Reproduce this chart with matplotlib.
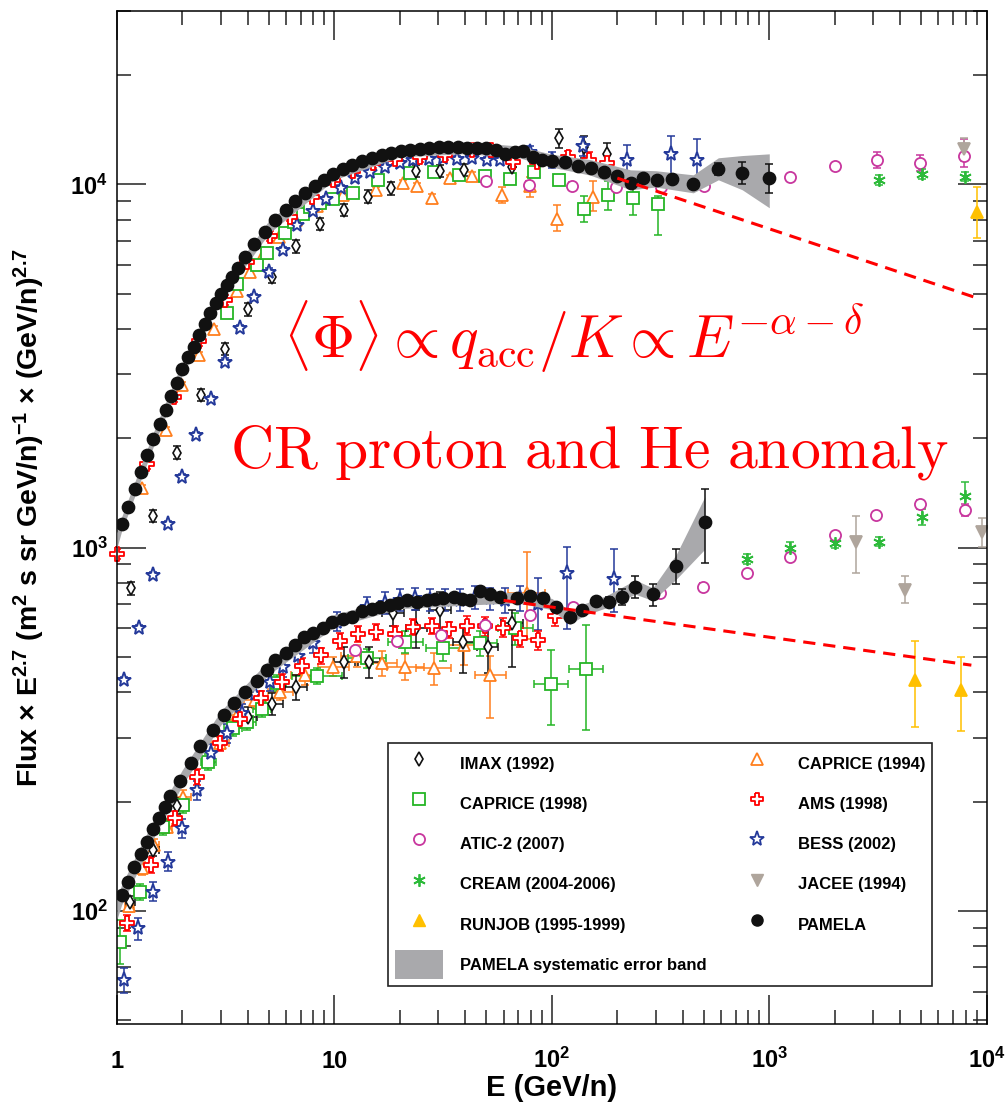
import numpy as np
import matplotlib
matplotlib.use("Agg")
import matplotlib.pyplot as plt
from matplotlib.lines import Line2D
from matplotlib.patches import Patch
from matplotlib.ticker import FixedLocator, FixedFormatter, LogLocator, NullFormatter

plt.rcParams.update({
    "font.family": ["Liberation Sans", "DejaVu Sans"],
    "font.weight": "bold",
    "mathtext.fontset": "custom",
    "mathtext.rm": "Liberation Sans:bold",
    "mathtext.bf": "Liberation Sans:bold",
    "mathtext.it": "Liberation Sans:bold:italic",
    "mathtext.sf": "Liberation Sans:bold",
    "axes.linewidth": 1.1,
})

# ---------------- data : protons (upper group) ----------------
pam_p_E = [1.05, 1.12, 1.21, 1.29, 1.37, 1.47, 1.58, 1.68, 1.77, 1.88,
           1.99, 2.12, 2.26, 2.39, 2.54, 2.68, 2.86, 3.01, 3.21, 3.38,
           3.61, 3.88, 4.27, 4.80, 5.33, 5.99, 6.59, 7.33, 8.15, 8.97,
           9.86, 10.9, 12.1, 13.4, 14.9, 16.6, 18.2, 20.3, 22.3, 24.8,
           27.3, 30.3, 33.4, 37.1, 40.8, 45.4, 49.9, 55.5, 61.0, 67.9,
           73.9, 82.1, 90.3, 100, 115, 132, 152, 174, 200, 232,
           263, 306, 358, 447, 583, 751, 1001]
pam_p_F = [1163, 1295, 1452, 1617, 1800, 1993, 2193, 2394, 2617, 2836,
           3105, 3351, 3571, 3852, 4130, 4430, 4720, 4995, 5288, 5565,
           5890, 6318, 6856, 7398, 7985, 8507, 9008, 9476, 9905, 10290,
           10690, 11030, 11320, 11610, 11830, 12050, 12210, 12370, 12450, 12530,
           12600, 12680, 12680, 12680, 12600, 12600, 12600, 12450, 12130, 12290,
           12370, 11900, 11680, 11610, 11530, 11240, 11100, 10820, 10550, 10100,
           10420, 10290, 10350, 10030, 11030, 10760, 10420]
pam_p_err = [0.0] * 64 + [0.04, 0.07, 0.09]

p_band_E = [1.0, 1.05, 1.5, 2.0, 3.0, 5.0, 10, 20, 40, 70, 100, 150, 230, 300, 447, 583, 751, 1000]
p_band_lo = [1000, 1110, 1960, 2990, 4790, 7330, 10300, 11900, 12150, 11850, 11150, 10600, 9660, 9830, 9475, 10290, 9660, 8620]
p_band_hi = [1100, 1215, 2140, 3250, 5190, 7950, 11100, 12800, 13100, 12750, 12100, 11700, 10960, 10900, 10620, 11830, 12000, 12130]

imax_p_E = [1.16, 1.47, 1.89, 2.43, 3.13, 4.02, 5.19, 6.66, 8.60, 11.1, 14.3, 18.3, 23.7, 30.6, 39.5, 65.5, 108, 140, 180]
imax_p_F = [774, 1223, 1827, 2634, 3526, 4535, 5574, 6744, 7786, 8507, 9256, 9761, 10890, 10890, 10960, 11190, 13430, 12680, 12130]
imax_p_err = [0.04, 0.04, 0.04, 0.04, 0.04, 0.04, 0.04, 0.04, 0.04, 0.04, 0.04, 0.04, 0.04, 0.04, 0.04, 0.05, 0.06, 0.07, 0.07]

cap94_p_E = [1.30, 1.68, 2.00, 2.39, 2.80, 3.58, 4.08, 4.75, 5.57, 6.65, 8.33, 11.0, 15.6, 20.7, 23.9, 28.1, 34.1, 43.1, 59.0, 79.5, 106, 155]
cap94_p_F = [1458, 2110, 2806, 3395, 4007, 5092, 5735, 6478, 7154, 7960, 8689, 9374, 9658, 10080, 9868, 9192, 10400, 10530, 9357, 9905, 8027, 9256]
cap94_p_lo = [0.02] * 17 + [0.03, 0.05, 0.07, 0.075, 0.09]
cap94_p_hi = [0.02] * 17 + [0.03, 0.05, 0.06, 0.09, 0.10]

cap98_p_E = [3.22, 3.57, 4.40, 4.89, 5.90, 6.49, 7.18, 7.73, 8.60, 9.89, 12.2, 15.9, 22.2, 28.8, 37.6, 49.2, 63.9, 82.7, 108, 140, 181, 235, 307]
cap98_p_F = [4422, 5304, 5991, 6465, 7340, 7900, 8295, 8673, 8911, 9107, 9493, 10290, 10760, 10790, 10590, 10530, 10350, 10820, 10250, 8579, 9357, 9163, 8838]
cap98_p_lo = [0.03] * 19 + [0.08, 0.09, 0.10, 0.18]
cap98_p_hi = [0.03] * 19 + [0.08, 0.09, 0.10, 0.05]

ams_p_E = [1.0, 1.38, 1.82, 2.39, 3.14, 3.95, 5.06, 6.25, 7.87, 9.86, 12.2, 15.1, 19.0, 24.8, 32.3, 42.9, 52.5, 66.2, 85.4, 119, 148, 180]
ams_p_F = [962, 1700, 2600, 3700, 4800, 6100, 7200, 8150, 9250, 10250, 10900, 11450, 11750, 11900, 12050, 12450, 12400, 11500, 11530, 11900, 11680, 11460]
ams_p_err = [0.03] * 19 + [0.04, 0.05, 0.05]

bess_p_E = [1.08, 1.26, 1.47, 1.71, 1.99, 2.32, 2.70, 3.14, 3.68, 4.28, 5.02, 5.83, 6.76, 8.01, 9.11, 10.7, 12.5,
            14.6, 17.1, 20.1, 23.1, 27.1, 31.6, 36.6, 42.9, 50.3, 57.9, 79.5, 100, 139, 222, 353, 465]
bess_p_F = [433, 600, 842, 1161, 1563, 2045, 2568, 3253, 4020, 4901, 5754, 6601, 7737, 8471, 9107, 9761, 10400,
            10840, 11190, 11440, 11680, 11730, 11810, 11760, 11810, 11680, 11680, 12290, 11680, 12710, 11680, 12130, 11680]
bess_p_err = [0.02] * 27 + [0.04, 0.05, 0.06, 0.10, 0.12, 0.14]

atic_p_E = [49.7, 78.9, 124, 198, 319, 499, 1241, 2000, 3134, 4960, 7848]
atic_p_F = [10220, 9987, 9924, 9824, 9824, 9905, 10470, 11240, 11680, 11440, 11980]
atic_p_lo = [0.02, 0.02, 0.02, 0.02, 0.02, 0.02, 0.02, 0.02, 0.05, 0.05, 0.07]
atic_p_hi = [0.02, 0.02, 0.02, 0.02, 0.02, 0.02, 0.02, 0.02, 0.05, 0.05, 0.11]

cream_p_E = [3188, 5049, 7987]
cream_p_F = [10290, 10690, 10500]
cream_p_err = [0.03, 0.03, 0.03]

jacee_p_E = [7848]
jacee_p_F = [12500]
jacee_p_err = [0.07]

runjob_p_E = [9044]
runjob_p_F = [8416]
runjob_p_lo = [0.155]
runjob_p_hi = [0.17]

p_line_E = [200, 8700]
p_line_F = [10400, 4900]

# ---------------- data : helium (lower group) ----------------
pam_he_E = [1.05, 1.12, 1.20, 1.29, 1.37, 1.47, 1.56, 1.66, 1.76, 1.95,
            2.18, 2.42, 2.75, 3.09, 3.47, 3.88, 4.40, 4.89, 5.35, 5.98,
            6.60, 7.28, 8.01, 8.84, 9.79, 10.9, 12.0, 13.4, 14.9, 16.2,
            18.0, 19.7, 21.5, 23.9, 26.6, 29.1, 31.7, 35.3, 38.6, 42.1,
            46.8, 52.1, 57.9, 69.1, 79.0, 90.6, 105, 121, 138, 160,
            183, 210, 242, 291, 374, 504]
pam_he_F = [110.7, 120.5, 132.5, 143.6, 155.2, 168, 180, 193.8, 207.4, 228.1,
            255.2, 285.3, 315.1, 346.6, 374.7, 401.7, 429.9, 460.9, 491.2, 512.4,
            540.2, 567, 581.7, 600.3, 626, 636.8, 643.7, 671.3, 677.2, 688.5,
            696, 703.5, 718.4, 710.6, 718.4, 721.5, 729, 731, 721.5, 718.4,
            762, 746.4, 733.8, 729, 737, 729, 688.5, 643.7, 674.3, 713.9,
            710.6, 733.8, 781.5, 744.7, 892.7, 1180]
pam_he_err = [0.0] * 49 + [0.02, 0.03, 0.05, 0.07, 0.07, 0.11, 0.23]

he_band_E = [1.0, 1.05, 1.5, 2.0, 3.0, 5.0, 10, 20, 40, 70, 100, 121, 140, 180, 242, 291, 374, 505]
he_band_lo = [95, 104, 162, 222, 325, 448, 605, 680, 695, 705, 675, 615, 650, 685, 745, 715, 820, 990]
he_band_hi = [108, 118, 182, 245, 355, 490, 655, 730, 745, 755, 725, 670, 700, 740, 815, 775, 960, 1380]

imax_he_E = [1.15, 1.47, 1.88, 4.02, 5.16, 6.66, 11.1, 14.4, 18.6, 23.8, 30.6, 39.2, 50.7, 65.5]
imax_he_F = [106.1, 147.3, 194.7, 342.9, 371.5, 413, 485.9, 485.9, 660, 600, 674.3, 551.3, 532, 619.7]
imax_he_lo = [0.04, 0.04, 0.05, 0.06, 0.07, 0.08, 0.10, 0.10, 0.08, 0.12, 0.15, 0.18, 0.15, 0.24]
imax_he_hi = [0.04, 0.04, 0.05, 0.06, 0.07, 0.08, 0.10, 0.10, 0.08, 0.12, 0.12, 0.11, 0.15, 0.09]
imax_he_dx = [0.05, 0.06, 0.07, 0.10, 0.12, 0.12, 0.12, 0.12, 0.12, 0.12, 0.12, 0.12, 0.12, 0.12]

cap94_he_E = [1.14, 1.30, 1.48, 1.69, 2.02, 2.98, 3.56, 4.32, 5.63, 7.33, 9.89, 12.7, 16.5, 21.2, 28.6, 39.3, 52.1, 76.5]
cap94_he_F = [103.3, 131.2, 152.1, 170.8, 206.5, 289.6, 346.6, 381, 401.7, 446.5, 470.6, 503.8, 481, 470.6, 466, 540, 446.5, 749.7]
cap94_he_lo = [0.04, 0.04, 0.04, 0.04, 0.04, 0.04, 0.05, 0.05, 0.05, 0.06, 0.06, 0.07, 0.08, 0.08, 0.10, 0.12, 0.24, 0.25]
cap94_he_hi = [0.04, 0.04, 0.04, 0.04, 0.04, 0.04, 0.05, 0.05, 0.05, 0.06, 0.06, 0.07, 0.08, 0.08, 0.10, 0.12, 0.13, 0.30]
cap94_he_dx = [0.05, 0.05, 0.05, 0.06, 0.08, 0.10, 0.10, 0.12, 0.14, 0.16, 0.18, 0.18, 0.18, 0.22, 0.20, 0.20, 0.18, 0.22]

cap98_he_E = [1.03, 1.28, 1.63, 2.01, 2.63, 3.42, 3.95, 4.63, 5.43, 8.30, 14.1, 21.2, 31.5, 46.8, 67.9, 99.4, 144]
cap98_he_F = [82.4, 113.1, 170.8, 195.9, 257.8, 319, 332.1, 359.9, 424.4, 443.7, 496.4, 551.3, 528.9, 546.8, 601, 421, 463]
cap98_he_lo = [0.13, 0.05, 0.05, 0.05, 0.05, 0.05, 0.05, 0.05, 0.05, 0.05, 0.06, 0.07, 0.08, 0.08, 0.10, 0.23, 0.32]
cap98_he_hi = [0.15, 0.05, 0.05, 0.05, 0.05, 0.05, 0.05, 0.05, 0.05, 0.05, 0.06, 0.07, 0.08, 0.08, 0.10, 0.24, 0.32]
cap98_he_dx = [0.03, 0.04, 0.05, 0.06, 0.08, 0.10, 0.10, 0.10, 0.10, 0.30, 0.22, 0.20, 0.20, 0.20, 0.20, 0.20, 0.20]

ams_he_E = [1.11, 1.44, 1.85, 2.33, 2.98, 3.68, 4.60, 5.73, 7.08, 8.64, 10.6, 12.9,
            15.6, 19.0, 23.1, 28.1, 33.6, 40.7, 49.4, 59.6, 71.5, 86.3, 103]
ams_he_F = [92.9, 133.9, 180, 234.4, 289.6, 337.9, 385.2, 427.9, 472.8, 505.3, 553.1, 579,
            586, 580, 606, 609, 595.5, 610, 609, 602.6, 565.6, 555.6, 647]
ams_he_err = [0.05] * 17 + [0.06, 0.06, 0.06, 0.06, 0.06, 0.06]

bess_he_E = [1.08, 1.25, 1.47, 1.71, 1.99, 2.33, 2.70, 3.20, 3.75, 4.32, 5.06, 5.83, 6.83, 8.01, 10.3,
             14.1, 17.1, 20.1, 23.5, 27.5, 32.3, 37.8, 44.4, 52.0, 61.0, 71.3, 86.3, 118, 194]
bess_he_F = [64.6, 89.7, 113.1, 136.8, 169.1, 215, 271.9, 308.6, 350.4, 395.9, 427.9, 469.7, 503.8, 545.8, 626,
             688.5, 704.7, 718.4, 726, 718.4, 718.4, 718.4, 731, 726, 718.4, 726, 700, 850.7, 819]
bess_he_lo = [0.08, 0.07, 0.06, 0.06, 0.06, 0.06, 0.06, 0.06, 0.06, 0.06, 0.06, 0.06, 0.06, 0.06, 0.06,
              0.06, 0.07, 0.07, 0.07, 0.07, 0.07, 0.07, 0.07, 0.07, 0.08, 0.08, 0.15, 0.30, 0.19]
bess_he_hi = [0.08, 0.07, 0.06, 0.06, 0.06, 0.06, 0.06, 0.06, 0.06, 0.06, 0.06, 0.06, 0.06, 0.06, 0.06,
              0.06, 0.07, 0.07, 0.07, 0.07, 0.07, 0.07, 0.07, 0.07, 0.08, 0.08, 0.18, 0.18, 0.21]

atic_he_E = [12.5, 19.5, 30.9, 49.4, 79.0, 125, 315, 496, 791, 1250, 2000, 3110, 4959, 7930]
atic_he_F = [523.2, 554.6, 575.4, 613.2, 654.6, 687.1, 749.7, 781.5, 850.7, 945.2, 1084, 1231, 1317, 1270]
atic_he_err = [0.02, 0.02, 0.02, 0.02, 0.02, 0.02, 0.02, 0.02, 0.02, 0.02, 0.02, 0.02, 0.03, 0.04]

cream_he_E = [791, 1250, 2000, 3188, 5049, 7930]
cream_he_F = [931.6, 996.8, 1029, 1039, 1218, 1388]
cream_he_err = [0.03, 0.04, 0.03, 0.03, 0.05, 0.09]

jacee_he_E = [2517, 4229, 9535]
jacee_he_F = [1039, 765.4, 1107]
jacee_he_lo = [0.18, 0.08, 0.09]
jacee_he_hi = [0.18, 0.09, 0.09]

runjob_he_E = [4668, 7656]
runjob_he_F = [432.5, 406]
runjob_he_lo = [0.26, 0.23]
runjob_he_hi = [0.28, 0.235]

he_line_E = [60, 8500]
he_line_F = [716, 475]

# ---------------- styles ----------------
c_imax = "#111111"
c_cap94 = "#FF7F1E"
c_cap98 = "#25B525"
c_atic = "#C8369E"
c_cream = "#2DBA3A"
c_runjob = "#FFC000"
c_ams = "#FF0000"
c_bess = "#24399A"
c_jacee = "#AFA59C"
c_pam = "#111111"
c_band = "#A9A9AC"

cross = [(-0.36, 1), (0.36, 1), (0.36, 0.36), (1, 0.36), (1, -0.36), (0.36, -0.36),
         (0.36, -1), (-0.36, -1), (-0.36, -0.36), (-1, -0.36), (-1, 0.36), (-0.36, 0.36), (-0.36, 1)]
aster = (6, 2, 0)

fig = plt.figure(figsize=(10.05, 11.17), dpi=100)
ax = fig.add_axes([0.1164, 0.0833, 0.8654, 0.9069])


def draw(E, F, lo, hi, marker, color, ms, dx=None, fill="white", mew=1.3, z=2, clip=True):
    E = np.asarray(E, float)
    F = np.asarray(F, float)
    lo = np.asarray(lo, float)
    hi = np.asarray(hi, float)
    m = (lo > 0) | (hi > 0)
    if dx is not None:
        dx = np.asarray(dx, float)
        xerr = [E[m] - E[m] / (1 + dx[m]), E[m] * dx[m]]
    else:
        xerr = None
    if m.any():
        ax.errorbar(E[m], F[m], yerr=[F[m] * lo[m], F[m] * hi[m]], xerr=xerr, fmt="none",
                    ecolor=color, elinewidth=1.1, capsize=3, capthick=1.1, zorder=z)
    ax.plot(E, F, ls="none", marker=marker, ms=ms, mfc=fill, mec=color, mew=mew,
            zorder=z + 0.1, clip_on=clip)


# protons
draw(cap94_p_E, cap94_p_F, cap94_p_lo, cap94_p_hi, "^", c_cap94, 9)
draw(cap98_p_E, cap98_p_F, cap98_p_lo, cap98_p_hi, "s", c_cap98, 8.5)
draw(imax_p_E, imax_p_F, imax_p_err, imax_p_err, "d", c_imax, 7.5, mew=1.2)
draw(bess_p_E, bess_p_F, bess_p_err, bess_p_err, "*", c_bess, 11, mew=1.4)
draw(ams_p_E, ams_p_F, ams_p_err, ams_p_err, cross, c_ams, 9.5, clip=False)
draw(atic_p_E, atic_p_F, atic_p_lo, atic_p_hi, "o", c_atic, 8)
draw(cream_p_E, cream_p_F, cream_p_err, cream_p_err, aster, c_cream, 9)
draw(jacee_p_E, jacee_p_F, jacee_p_err, jacee_p_err, "v", c_jacee, 9, fill=c_jacee)
draw(runjob_p_E, runjob_p_F, runjob_p_lo, runjob_p_hi, "^", c_runjob, 9, fill=c_runjob)

# helium
draw(cap94_he_E, cap94_he_F, cap94_he_lo, cap94_he_hi, "^", c_cap94, 9, dx=cap94_he_dx)
draw(cap98_he_E, cap98_he_F, cap98_he_lo, cap98_he_hi, "s", c_cap98, 8.5, dx=cap98_he_dx)
draw(imax_he_E, imax_he_F, imax_he_lo, imax_he_hi, "d", c_imax, 7.5, dx=imax_he_dx, mew=1.2)
draw(bess_he_E, bess_he_F, bess_he_lo, bess_he_hi, "*", c_bess, 11, mew=1.4)
draw(ams_he_E, ams_he_F, ams_he_err, ams_he_err, cross, c_ams, 9.5)
draw(atic_he_E, atic_he_F, atic_he_err, atic_he_err, "o", c_atic, 8)
draw(cream_he_E, cream_he_F, cream_he_err, cream_he_err, aster, c_cream, 9)
draw(jacee_he_E, jacee_he_F, jacee_he_lo, jacee_he_hi, "v", c_jacee, 9, fill=c_jacee)
draw(runjob_he_E, runjob_he_F, runjob_he_lo, runjob_he_hi, "^", c_runjob, 9, fill=c_runjob)

# PAMELA band + points
ax.fill_between(p_band_E, p_band_lo, p_band_hi, color=c_band, lw=0, zorder=2.6)
ax.fill_between(he_band_E, he_band_lo, he_band_hi, color=c_band, lw=0, zorder=2.6)
draw(pam_p_E, pam_p_F, pam_p_err, pam_p_err, "o", c_pam, 8.6, fill=c_pam, z=3)
draw(pam_he_E, pam_he_F, pam_he_err, pam_he_err, "o", c_pam, 8.6, fill=c_pam, z=3)

# model lines
ax.plot(p_line_E, p_line_F, color="#FF0000", lw=2.2, dashes=(4, 2.6), zorder=4)
ax.plot(he_line_E, he_line_F, color="#FF0000", lw=2.2, dashes=(4, 2.6), zorder=4)

# red annotations
ax.text(0.5255, 0.6575, r"$\langle\Phi\rangle \propto q_{\rm acc}/K \propto E^{-\alpha-\delta}$",
        transform=ax.transAxes, ha="center", va="baseline", fontsize=43, color="#FF0000",
        math_fontfamily="cm", zorder=6)
ax.text(0.5427, 0.5489, r"$\mathrm{CR\ proton\ and\ He\ anomaly}$",
        transform=ax.transAxes, ha="center", va="baseline", fontsize=43, color="#FF0000",
        math_fontfamily="cm", zorder=6)

# axes
ax.set_xscale("log")
ax.set_yscale("log")
ax.set_xlim(1, 1e4)
ax.set_ylim(48.9, 3.0e4)

x_ticks = [1, 10, 100, 1000, 10000]
x_labels = ["1", "10", r"$10^{2}$", r"$10^{3}$", r"$10^{4}$"]
y_ticks = [100, 1000, 10000]
y_labels = [r"$10^{2}$", r"$10^{3}$", r"$10^{4}$"]
ax.xaxis.set_major_locator(FixedLocator(x_ticks))
ax.xaxis.set_major_formatter(FixedFormatter(x_labels))
ax.yaxis.set_major_locator(FixedLocator(y_ticks))
ax.yaxis.set_major_formatter(FixedFormatter(y_labels))
ax.xaxis.set_minor_locator(LogLocator(base=10, subs=np.arange(2, 10), numticks=30))
ax.yaxis.set_minor_locator(LogLocator(base=10, subs=np.arange(2, 10), numticks=30))
ax.xaxis.set_minor_formatter(NullFormatter())
ax.yaxis.set_minor_formatter(NullFormatter())

ax.tick_params(which="both", direction="in", top=True, right=True, width=1.1, color="#222222")
ax.tick_params(which="major", length=21, labelsize=17)
ax.tick_params(which="minor", length=10)
ax.tick_params(axis="x", which="major", pad=31.5)
ax.tick_params(axis="y", which="major", pad=6.5)
for t in ax.xaxis.get_majorticklabels():
    t.set_verticalalignment("baseline")

ax.set_xlabel("E (GeV/n)", fontsize=21, fontweight="bold")
ax.set_ylabel("Flux \u00d7 E$^{2.7}$ (m$^{2}$ s sr GeV/n)$^{-1}$ \u00d7 (GeV/n)$^{2.7}$",
              fontsize=20.5, fontweight="bold")
ax.xaxis.set_label_coords(0.5, -0.049)
ax.yaxis.set_label_coords(-0.08, 0.5)

# legend
handles = [
    Line2D([], [], ls="none", marker="d", ms=7, mfc="white", mec=c_imax, mew=1.2, label="IMAX (1992)"),
    Line2D([], [], ls="none", marker="s", ms=8, mfc="white", mec=c_cap98, mew=1.3, label="CAPRICE (1998)"),
    Line2D([], [], ls="none", marker="o", ms=8, mfc="white", mec=c_atic, mew=1.3, label="ATIC-2 (2007)"),
    Line2D([], [], ls="none", marker=aster, ms=9, mfc="white", mec=c_cream, mew=1.3, label="CREAM (2004-2006)"),
    Line2D([], [], ls="none", marker="^", ms=8.5, mfc=c_runjob, mec=c_runjob, label="RUNJOB (1995-1999)"),
    Patch(facecolor=c_band, edgecolor="none", label="PAMELA systematic error band"),
    Line2D([], [], ls="none", marker="^", ms=9, mfc="white", mec=c_cap94, mew=1.3, label="CAPRICE (1994)"),
    Line2D([], [], ls="none", marker=cross, ms=9, mfc="white", mec=c_ams, mew=1.3, label="AMS (1998)"),
    Line2D([], [], ls="none", marker="*", ms=11, mfc="white", mec=c_bess, mew=1.3, label="BESS (2002)"),
    Line2D([], [], ls="none", marker="v", ms=8.5, mfc=c_jacee, mec=c_jacee, label="JACEE (1994)"),
    Line2D([], [], ls="none", marker="o", ms=8, mfc=c_pam, mec=c_pam, label="PAMELA"),
]
leg = ax.legend(handles=handles, ncols=2, loc="lower left",
                bbox_to_anchor=(0.3115, 0.0375, 0.6253, 0.237), mode="expand", borderaxespad=0,
                prop=dict(family="Liberation Sans", weight="bold", size=12),
                handlelength=2.9, handleheight=2.33, handletextpad=1.0, labelspacing=0.65,
                borderpad=0.4, columnspacing=1.0, frameon=True, fancybox=False,
                edgecolor="#222222", framealpha=1)
leg.get_frame().set_linewidth(1.2)
leg.set_zorder(7)

fig.savefig("out.png", dpi=100)
